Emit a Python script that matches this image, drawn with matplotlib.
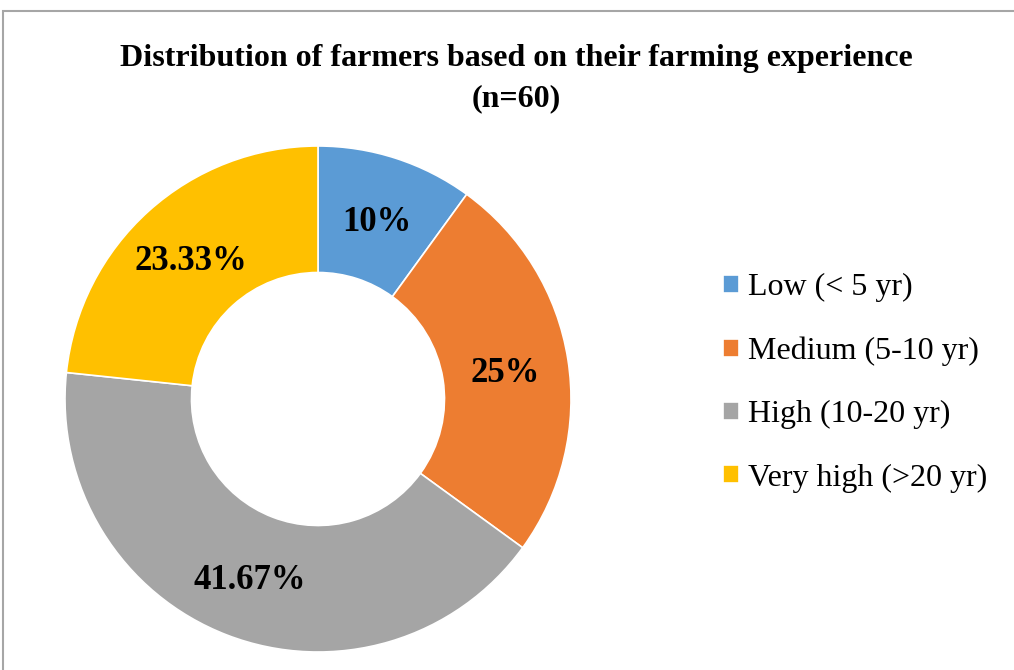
import numpy as np
import matplotlib.pyplot as plt
from matplotlib.patches import Rectangle

categories = ['Low (< 5 yr)', 'Medium (5-10 yr)', 'High (10-20 yr)', 'Very high (>20 yr)']
shares = [10, 25, 41.67, 23.33]
pct_labels = ['10%', '25%', '41.67%', '23.33%']
colors = ['#5B9BD5', '#ED7D31', '#A5A5A5', '#FFC000']

plt.rcParams['font.family'] = ['Liberation Serif', 'DejaVu Serif']

fig = plt.figure(figsize=(10.14, 6.70), dpi=100)

# chart area border (cropped on right and bottom)
fig.patches.append(Rectangle((3 / 1014, -0.1), 1.2, 0.1 + (670 - 11) / 670,
                             transform=fig.transFigure, fill=False,
                             edgecolor='#a6a6a6', linewidth=1.5))

ax = fig.add_axes([65 / 1014, 18 / 670, 506 / 1014, 506 / 670])
wedges, _ = ax.pie(shares, colors=colors, startangle=90, counterclock=False,
                   radius=1, wedgeprops=dict(width=0.5, edgecolor='white', linewidth=1.2))
ax.set_xlim(-1, 1)
ax.set_ylim(-1, 1)
ax.set_aspect('equal')

# percentage labels at wedge middles
for w, lab in zip(wedges, pct_labels):
    ang = np.deg2rad((w.theta1 + w.theta2) / 2)
    ax.text(0.75 * np.cos(ang), 0.75 * np.sin(ang), lab, ha='center', va='center_baseline',
            fontsize=25, fontweight='bold')

fig.text(516 / 1014, 1 - 55 / 670, 'Distribution of farmers based on their farming experience',
         ha='center', va='center_baseline', fontsize=23, fontweight='bold')
fig.text(516 / 1014, 1 - 95 / 670, '(n=60)',
         ha='center', va='center_baseline', fontsize=23, fontweight='bold')

fig.legend(wedges, categories, loc='center left', bbox_to_anchor=(694 / 1014, 1 - 383 / 670),
           frameon=False, fontsize=23, handlelength=0.5, handleheight=0.5,
           handletextpad=0.3, labelspacing=1.07)

fig.savefig('out.png', dpi=100)
